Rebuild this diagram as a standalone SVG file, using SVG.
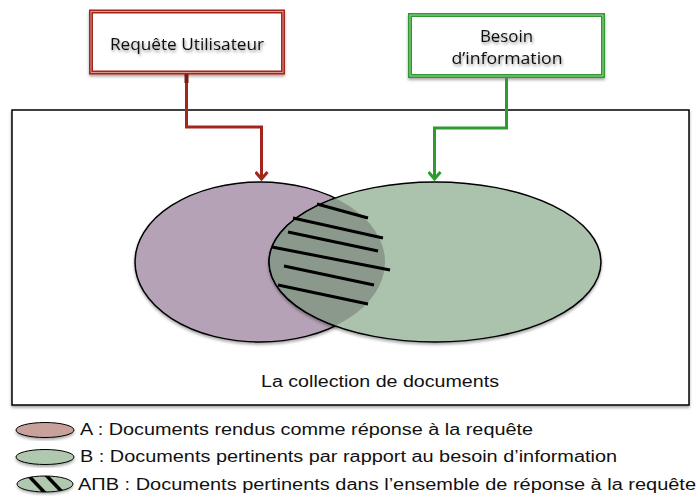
<svg xmlns="http://www.w3.org/2000/svg" width="698" height="504" viewBox="0 0 698 504">
  <style>
    .lbl { font-family: "Liberation Sans", Arial, sans-serif; font-size: 16px; fill: #111; }
    .box-text { font-family: "Open Sans", "Noto Sans", sans-serif; font-size: 16px; fill: #111; text-anchor: middle; }
    .conn { fill: none; stroke-width: 3; stroke-linejoin: miter; }
    .hatch { stroke: #000; stroke-width: 3; stroke-linecap: butt; }
    .venn { stroke: #000; stroke-width: 1.5; }
    .leg { stroke: #000; stroke-width: 1; }
  </style>
  <defs>
    <filter id="shadow" x="-10%" y="-10%" width="120%" height="130%">
      <feGaussianBlur in="SourceAlpha" stdDeviation="1.5"/>
      <feOffset dx="0" dy="2" result="b"/>
      <feComponentTransfer><feFuncA type="linear" slope="0.35"/></feComponentTransfer>
      <feMerge><feMergeNode/><feMergeNode in="SourceGraphic"/></feMerge>
    </filter>
    <filter id="tshadow" x="-10%" y="-30%" width="120%" height="160%">
      <feGaussianBlur in="SourceAlpha" stdDeviation="1.6"/>
      <feOffset dx="1" dy="2" result="b"/>
      <feComponentTransfer><feFuncA type="linear" slope="0.45"/></feComponentTransfer>
      <feMerge><feMergeNode/><feMergeNode in="SourceGraphic"/></feMerge>
    </filter>
    <marker id="arrRed" markerWidth="12" markerHeight="14" refX="10" refY="7" orient="auto" markerUnits="userSpaceOnUse" viewBox="0 0 12 14">
      <path d="M3,1 L10,7 L3,13" fill="none" stroke="#a3261c" stroke-width="3"/>
    </marker>
    <marker id="arrGreen" markerWidth="12" markerHeight="14" refX="10" refY="7" orient="auto" markerUnits="userSpaceOnUse" viewBox="0 0 12 14">
      <path d="M3,1 L10,7 L3,13" fill="none" stroke="#2f9a2f" stroke-width="3"/>
    </marker>
    <clipPath id="clipA">
      <ellipse cx="260" cy="262" rx="125" ry="80"/>
    </clipPath>
    <clipPath id="clipLeg">
      <ellipse cx="45" cy="484" rx="28" ry="8"/>
    </clipPath>
  </defs>

  <rect width="698" height="504" fill="#ffffff"/>

  <!-- Collection frame -->
  <g id="collection">
    <rect x="12" y="110" width="677" height="295" fill="#ffffff" stroke="#000" stroke-width="1.5" filter="url(#shadow)"/>
    <text class="lbl" x="261" y="387" textLength="238" lengthAdjust="spacingAndGlyphs">La collection de documents</text>
  </g>

  <!-- Venn diagram -->
  <g id="setA">
    <ellipse class="venn" cx="260" cy="262" rx="125" ry="80" fill="#b5a2b7" filter="url(#shadow)"/>
  </g>
  <g id="setB">
    <ellipse class="venn" cx="435" cy="262" rx="166" ry="80" fill="#abc2ad" filter="url(#shadow)"/>
  </g>
  <g id="intersection">
    <ellipse cx="435" cy="262" rx="166" ry="80" fill="#8a998c" clip-path="url(#clipA)"/>
    <line class="hatch" x1="317" y1="204" x2="368" y2="218"/>
    <line class="hatch" x1="293" y1="218" x2="383" y2="238"/>
    <line class="hatch" x1="288" y1="232" x2="378" y2="251"/>
    <line class="hatch" x1="272" y1="247" x2="390" y2="270"/>
    <line class="hatch" x1="284" y1="266" x2="374" y2="285"/>
    <line class="hatch" x1="278" y1="285" x2="368" y2="304"/>
    <ellipse cx="435" cy="262" rx="166" ry="80" fill="none" stroke="#000" stroke-width="1.5" clip-path="url(#clipA)"/>
  </g>

  <!-- Source boxes -->
  <g id="requete">
    <rect x="91" y="11.5" width="192" height="61" fill="#ffffff" stroke="#a3261c" stroke-width="4" filter="url(#shadow)"/>
    <rect x="91" y="11.5" width="192" height="61" fill="none" stroke="#e6b7b2" stroke-width="0.8"/>
    <text class="box-text" x="187" y="50" textLength="154" lengthAdjust="spacingAndGlyphs" filter="url(#tshadow)">Requête Utilisateur</text>
  </g>
  <g id="besoin">
    <rect x="410" y="15" width="193" height="61" fill="#ffffff" stroke="#2f9a2f" stroke-width="4" filter="url(#shadow)"/>
    <rect x="410" y="15" width="193" height="61" fill="none" stroke="#b9e0b9" stroke-width="0.8"/>
    <text class="box-text" x="506.5" y="42" textLength="53" lengthAdjust="spacingAndGlyphs" filter="url(#tshadow)">Besoin</text>
    <text class="box-text" x="507" y="63.5" textLength="111" lengthAdjust="spacingAndGlyphs" filter="url(#tshadow)">d’information</text>
  </g>

  <!-- Connectors -->
  <g id="connectors">
    <path class="conn" d="M186.5,74 V127 H261.5 V179" stroke="#a3261c" marker-end="url(#arrRed)"/>
    <rect x="184.5" y="74" width="4" height="9" fill="#7a1a12"/>
    <path class="conn" d="M506.5,77 V128 H434.5 V179" stroke="#2f9a2f" marker-end="url(#arrGreen)"/>
  </g>

  <!-- Legend -->
  <g id="legendA">
    <ellipse class="leg" cx="45" cy="430" rx="29" ry="7.5" fill="#c9a19b" filter="url(#shadow)"/>
    <text class="lbl" x="80" y="435" textLength="453" lengthAdjust="spacingAndGlyphs">A : Documents rendus comme réponse à la requête</text>
  </g>
  <g id="legendB">
    <ellipse class="leg" cx="45" cy="457" rx="29" ry="7.5" fill="#b0c8b0" filter="url(#shadow)"/>
    <text class="lbl" x="80" y="462" textLength="537" lengthAdjust="spacingAndGlyphs">B : Documents pertinents par rapport au besoin d’information</text>
  </g>
  <g id="legendAB">
    <ellipse cx="45" cy="484" rx="28" ry="8" fill="#b0c8b0" filter="url(#shadow)"/>
    <g clip-path="url(#clipLeg)">
      <line x1="26" y1="473" x2="47" y2="495" stroke="#000" stroke-width="3.5"/>
      <line x1="44" y1="473" x2="65" y2="495" stroke="#000" stroke-width="3.5"/>
    </g>
    <ellipse class="leg" cx="45" cy="484" rx="28" ry="8" fill="none"/>
    <text class="lbl" x="78" y="490" textLength="618" lengthAdjust="spacingAndGlyphs">AΠB : Documents pertinents dans l’ensemble de réponse à la requête</text>
  </g>
</svg>
